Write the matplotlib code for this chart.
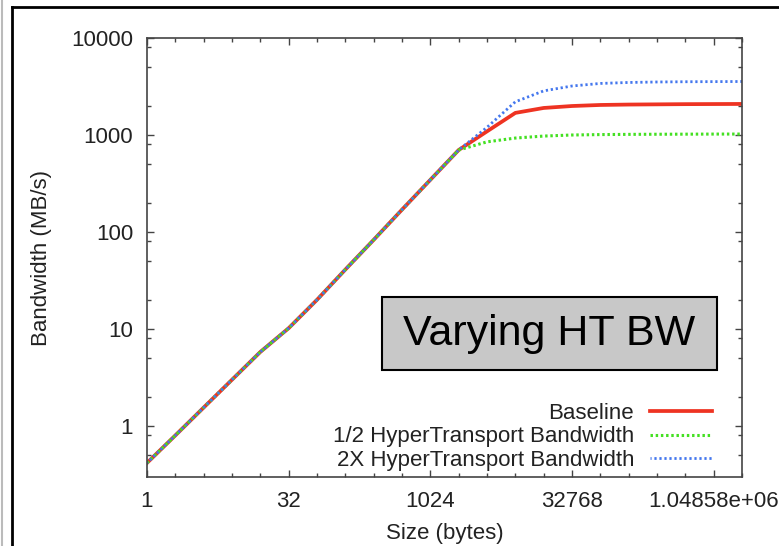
import numpy as np
import matplotlib
matplotlib.use("Agg")
import matplotlib.pyplot as plt
from matplotlib.lines import Line2D
from matplotlib.patches import Rectangle
from matplotlib.ticker import FixedLocator, NullFormatter

plt.rcParams['font.family'] = ['Liberation Sans', 'DejaVu Sans']

# message sizes (bytes), powers of two 1 .. 2^21
sizes = [1, 2, 4, 8, 16, 32, 64, 128, 256, 512, 1024, 2048, 4096, 8192,
         16384, 32768, 65536, 131072, 262144, 524288, 1048576, 2097152]

baseline = [0.416, 0.8, 1.55, 3.0, 5.8, 10.2, 20, 41, 83, 170, 345, 700,
            1090, 1690, 1900, 1990, 2040, 2060, 2070, 2080, 2085, 2090]
half_ht = [0.416, 0.8, 1.55, 3.0, 5.8, 10.2, 20, 41, 83, 170, 345, 700,
           850, 930, 975, 1000, 1010, 1015, 1018, 1020, 1022, 1023]
double_ht = [0.416, 0.8, 1.55, 3.0, 5.8, 10.2, 20, 41, 83, 170, 345, 700,
             1200, 2200, 2850, 3200, 3400, 3480, 3520, 3540, 3550, 3560]

x_ticks = [1, 32, 1024, 32768, 1048576]
x_labels = ['1', '32', '1024', '32768', '1.04858e+06']
y_ticks = [1, 10, 100, 1000, 10000]
y_labels = ['1', '10', '100', '1000', '10000']

W, H = 779, 546
fig = plt.figure(figsize=(W / 100, H / 100), dpi=100)
ax = fig.add_axes([147 / W, (H - 477) / H, (742 - 147) / W, (477 - 38) / H])

ax.plot(sizes, baseline, color='#ee3322', lw=2.7, label='Baseline')
ax.plot(sizes, half_ht, color='#44e022', lw=2.2, linestyle=(0, (0.8, 0.9)),
        label='1/2 HyperTransport Bandwidth')
ax.plot(sizes, double_ht, color='#4477ee', lw=2.0,
        linestyle=(0.4, (0.8, 1.0)),
        label='2X HyperTransport Bandwidth')

ax.set_xscale('log', base=2)
ax.set_yscale('log')
ax.set_xlim(1, 2 ** 21)
ax.set_ylim(0.298, 10000)

ax.xaxis.set_major_locator(FixedLocator(x_ticks))
ax.set_xticklabels(x_labels)
ax.xaxis.set_minor_locator(FixedLocator([2.0 ** k for k in range(22)]))
ax.xaxis.set_minor_formatter(NullFormatter())

ax.yaxis.set_major_locator(FixedLocator(y_ticks))
ax.set_yticklabels(y_labels)
ax.yaxis.set_minor_locator(FixedLocator(
    [m * 10.0 ** e for e in range(-1, 4) for m in (2, 5, 8)]))
ax.yaxis.set_minor_formatter(NullFormatter())

for s in ax.spines.values():
    s.set_color('#444444')
    s.set_linewidth(1.2)
ax.tick_params(which='both', direction='in', top=True, right=True,
               color='#444444', labelsize=16, labelcolor='#222222')
ax.tick_params(which='major', length=5, width=1.0, pad=10)
ax.tick_params(which='minor', length=3, width=1.0)

ax.set_xlabel('Size (bytes)', fontsize=16, color='#222222', labelpad=8)
ax.set_ylabel('Bandwidth (MB/s)', fontsize=16, color='#222222', labelpad=14)

leg = ax.legend(loc='lower right', bbox_to_anchor=(0.972, -0.016),
                frameon=False, markerfirst=False, fontsize=16,
                handlelength=2.8, handletextpad=0.7, labelspacing=0.1,
                borderaxespad=0.2)
for t in leg.get_texts():
    t.set_color('#222222')

# annotation box
fig.add_artist(Rectangle((382 / W, (H - 370) / H), (717 - 382) / W, 73 / H,
                         transform=fig.transFigure, facecolor='#c8c8c8',
                         edgecolor='black', lw=1.5))
fig.text(549 / W, (H - 334) / H, 'Varying HT BW', fontsize=31,
         ha='center', va='center', color='black')

# outer frame of the screenshot
fig.add_artist(Line2D([12 / W, 12 / W], [0, (H - 7) / H],
                      transform=fig.transFigure, color='black', lw=2))
fig.add_artist(Line2D([12 / W, 1], [(H - 7) / H, (H - 7) / H],
                      transform=fig.transFigure, color='black', lw=2))
fig.add_artist(Line2D([2 / W, 2 / W], [0, 1],
                      transform=fig.transFigure, color='#bbbbbb', lw=1.5))

fig.savefig('out.png', dpi=100)
